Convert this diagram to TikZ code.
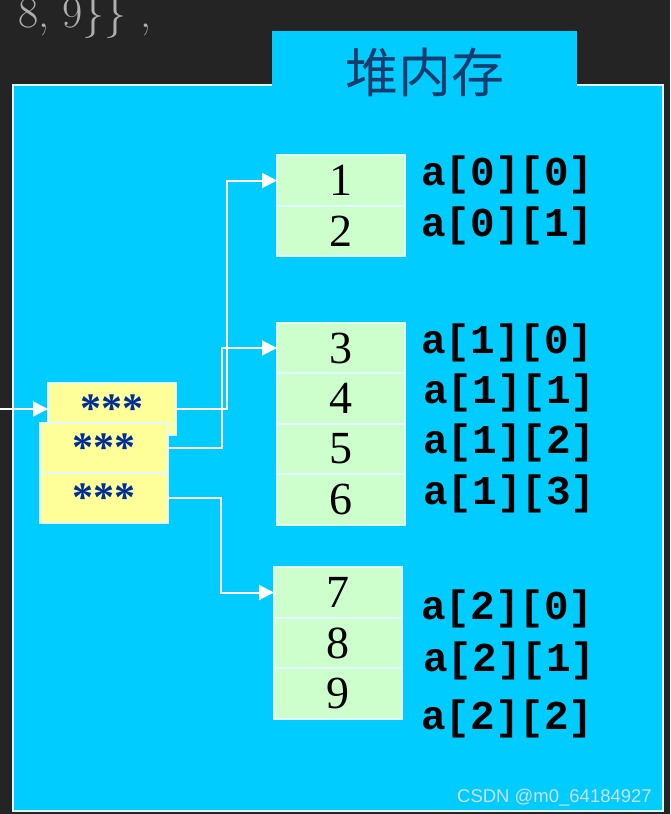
\documentclass[tikz,border=0pt]{standalone}
\usepackage{fontspec}
\newfontfamily\numfont{Liberation Serif}
\newfontfamily\idxfont{Liberation Mono}
\newfontfamily\cjkfont{Noto Sans CJK SC}
\newfontfamily\markfont{Liberation Sans}
\usepackage{xcolor}
\definecolor{boardbg}{RGB}{36, 36, 36}
\definecolor{chalkgray}{RGB}{175, 175, 175}
\definecolor{heapcyan}{RGB}{0, 204, 255}
\definecolor{heapline}{RGB}{225, 250, 255}
\definecolor{cellgreen}{RGB}{204, 255, 204}
\definecolor{ptryellow}{RGB}{255, 255, 153}
\definecolor{stardark}{RGB}{0, 45, 150}
\definecolor{tabtext}{RGB}{22, 60, 110}
\definecolor{marktext}{RGB}{205, 222, 232}
\usepackage{tikz}
\usetikzlibrary{positioning, arrows.meta}
\tikzset{
    cellbox/.style={
        draw=heapline,
        fill=cellgreen,
        line width=2pt,
        inner sep=0pt,
        outer sep=0pt,
        minimum width=128pt,
        minimum height=50.5pt,
        font=\numfont\fontsize{46}{46}\selectfont
    },
    ptrbox/.style={
        draw=heapline,
        fill=ptryellow,
        line width=1.5pt,
        inner sep=0pt,
        outer sep=0pt,
        minimum width=128pt,
        minimum height=50pt,
        text=stardark,
        font=\numfont\bfseries\fontsize{42}{42}\selectfont
    },
    idxlabel/.style={
        anchor=west,
        inner sep=0pt,
        font=\idxfont\bfseries\fontsize{41}{41}\selectfont
    },
    arrow/.style={
        -{Triangle[length=15pt,width=15pt]},
        line width=2pt,
        white
    }
}

\begin{document}
\begin{tikzpicture}[x=1pt, y=-1pt]

% ---------------------------------------------------------
% Board
% ---------------------------------------------------------

\useasboundingbox (0,0) rectangle (670,814);
\clip (0,0) rectangle (670,814);
\fill[boardbg] (0,0) rectangle (670,814);

% Leftover code line at the top
\node[anchor=base west, inner sep=0pt, text=chalkgray,
      font=\fontsize{44}{44}\selectfont] (codeline) at (18,27) {8, 9\}\}\ ,};

% Heap area with its tab
\node[draw=heapline, fill=heapcyan, line width=2pt, inner sep=0pt,
      minimum width=650pt, minimum height=726pt] (heap) at (338,448) {};
\node[fill=heapcyan, inner sep=0pt, minimum width=305pt, minimum height=82pt,
      text=tabtext, font=\cjkfont\fontsize{53}{53}\selectfont] (tab) at (424.5,72) {堆内存};

% ---------------------------------------------------------
% Rows on the heap
% ---------------------------------------------------------

% a[0]
\node[cellbox] (c1) at (341,180.5) {1};
\node[cellbox, below=0pt of c1] (c2) {2};

% a[1]
\node[cellbox] (c3) at (341,348) {3};
\node[cellbox, below=0pt of c3] (c4) {4};
\node[cellbox, below=0pt of c4] (c5) {5};
\node[cellbox, below=0pt of c5] (c6) {6};

% a[2]
\node[cellbox] (c7) at (338,592.5) {7};
\node[cellbox, below=0pt of c7] (c8) {8};
\node[cellbox, below=0pt of c8] (c9) {9};

% Element names
\node[idxlabel] (l00) at (421,175) {a[0][0]};
\node[idxlabel] (l01) at (421,226) {a[0][1]};
\node[idxlabel] (l10) at (421,343) {a[1][0]};
\node[idxlabel] (l11) at (423,393) {a[1][1]};
\node[idxlabel] (l12) at (423,443) {a[1][2]};
\node[idxlabel] (l13) at (423,494) {a[1][3]};
\node[idxlabel] (l20) at (421,609) {a[2][0]};
\node[idxlabel] (l21) at (423,661) {a[2][1]};
\node[idxlabel] (l22) at (421,719) {a[2][2]};

% ---------------------------------------------------------
% Row pointers
% ---------------------------------------------------------

\node[ptrbox, minimum height=52pt] (p1) at (112,409) {***};
\node[ptrbox] (p2) at (104,448) {***};
\node[ptrbox, below=0pt of p2] (p3) {***};

% ---------------------------------------------------------
% Arrows
% ---------------------------------------------------------

\coordinate (src) at (0,409);
\draw[arrow] (src) -- (p1.west);

\draw[arrow] (p1.east) -- ++(51,0) |- (c1.west);
\draw[arrow] (p2.east) -- ++(54,0) |- (c3.west);
\draw[arrow] (p3.east) -- ++(53,0) |- (c7.west);

% Watermark
\node[anchor=base east, inner sep=0pt, text=marktext,
      font=\markfont\fontsize{18.5}{18.5}\selectfont] (mark) at (652,802) {CSDN @m0\_64184927};

\end{tikzpicture}
\end{document}
